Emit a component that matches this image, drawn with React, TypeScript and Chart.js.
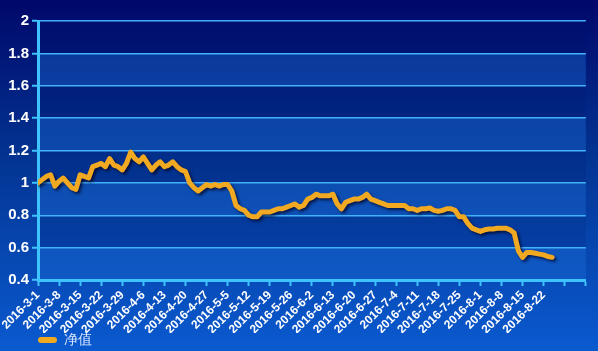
import React, { useEffect, useRef } from "react";
import { Chart, registerables } from "chart.js";

Chart.register(...registerables);

const seriesName = "净值";

const xTickLabels = [
  "2016-3-1", "2016-3-8", "2016-3-15", "2016-3-22", "2016-3-29", "2016-4-6",
  "2016-4-13", "2016-4-20", "2016-4-27", "2016-5-5", "2016-5-12", "2016-5-19",
  "2016-5-26", "2016-6-2", "2016-6-13", "2016-6-20", "2016-6-27", "2016-7-4",
  "2016-7-11", "2016-7-18", "2016-7-25", "2016-8-1", "2016-8-8", "2016-8-15",
  "2016-8-22",
];

const netValues = [
  1.0, 1.02, 1.04, 1.05, 0.98, 1.01, 1.03, 1.0, 0.97, 0.96,
  1.05, 1.04, 1.03, 1.1, 1.11, 1.12, 1.1, 1.15, 1.11, 1.1,
  1.08, 1.12, 1.19, 1.15, 1.13, 1.16, 1.12, 1.08, 1.11, 1.13,
  1.1, 1.11, 1.13, 1.1, 1.08, 1.07, 1.0, 0.97, 0.95, 0.97,
  0.99, 0.98, 0.99, 0.98, 0.99, 0.99, 0.95, 0.86, 0.84, 0.83,
  0.8, 0.79, 0.79, 0.82, 0.82, 0.82, 0.83, 0.84, 0.84, 0.85,
  0.86, 0.87, 0.85, 0.86, 0.9, 0.91, 0.93, 0.92, 0.92, 0.92,
  0.93, 0.87, 0.84, 0.88, 0.89, 0.9, 0.9, 0.91, 0.93, 0.9,
  0.89, 0.88, 0.87, 0.86, 0.86, 0.86, 0.86, 0.86, 0.84, 0.84,
  0.83, 0.84, 0.84, 0.845, 0.83, 0.825, 0.83, 0.84, 0.84, 0.83,
  0.79, 0.79, 0.75, 0.72, 0.71, 0.7, 0.71, 0.715, 0.715, 0.72,
  0.72, 0.72, 0.71, 0.69, 0.58, 0.54, 0.57, 0.57, 0.565, 0.56,
  0.555, 0.545, 0.54,
];

const yMin = 0.4;
const yMax = 2;
const yStep = 0.2;
const daysPerTick = 5;
const axisDays = 130;

const axisBlue = "#3ec3ff";
const gridBlue = "rgba(70,185,255,0.95)";
const lineGold = "#f2a922";

const bgPlugin = {
  id: "bgPlugin",
  beforeDraw(chart: any) {
    const { ctx, width, height, chartArea, scales } = chart;
    ctx.save();
    const g = ctx.createLinearGradient(0, 0, 0, height);
    g.addColorStop(0, "#00086a");
    g.addColorStop(0.45, "#033492");
    g.addColorStop(1, "#0a5ad0");
    ctx.fillStyle = g;
    ctx.fillRect(0, 0, width, height);
    const y = scales.y;
    let k = 0;
    for (let v = yMax; v > yMin + 1e-6; v -= yStep) {
      const top = y.getPixelForValue(v);
      const bot = y.getPixelForValue(v - yStep);
      ctx.fillStyle = k % 2 === 1 ? "rgba(30,110,215,0.38)" : "rgba(0,20,90,0.12)";
      ctx.fillRect(chartArea.left, top, chartArea.right - chartArea.left, bot - top);
      k++;
    }
    ctx.restore();
  },
  beforeDatasetsDraw(chart: any) {
    const ctx = chart.ctx;
    ctx.save();
    ctx.shadowColor = "rgba(0,0,30,0.7)";
    ctx.shadowOffsetX = 2;
    ctx.shadowOffsetY = 2;
    ctx.shadowBlur = 3;
  },
  afterDatasetsDraw(chart: any) {
    chart.ctx.restore();
  },
};

export default function App() {
  const ref = useRef<HTMLCanvasElement>(null);
  useEffect(() => {
    document.body.style.margin = "0";
    const chart = new Chart(ref.current as HTMLCanvasElement, {
      type: "line",
      data: {
        datasets: [
          {
            label: seriesName,
            data: netValues.map((v, i) => ({ x: i, y: v })),
            borderColor: lineGold,
            backgroundColor: lineGold,
            borderWidth: 5,
            pointRadius: 0,
            tension: 0,
            borderJoinStyle: "round",
            borderCapStyle: "round",
          },
        ],
      },
      options: {
        responsive: false,
        animation: false,
        layout: { padding: { top: 21, right: 7, left: 0, bottom: -6 } },
        plugins: {
          tooltip: { enabled: false },
          legend: {
            position: "bottom",
            align: "start",
            fullSize: false,
            labels: {
              boxWidth: 19,
              boxHeight: 6,
              padding: 0,
              useBorderRadius: true,
              borderRadius: 3,
              color: "#d6e4ff",
              font: { size: 14, family: "Arial" },
              generateLabels: () => [
                {
                  text: seriesName,
                  fillStyle: lineGold,
                  strokeStyle: lineGold,
                  lineWidth: 0,
                  borderRadius: 3,
                  datasetIndex: 0,
                  fontColor: "#d6e4ff",
                },
              ],
            },
          },
        },
        scales: {
          x: {
            type: "linear",
            min: 0,
            max: axisDays,
            afterFit: (s: any) => {
              s.height = 53;
            },
            grid: {
              drawOnChartArea: false,
              drawTicks: true,
              tickLength: 6,
              tickColor: axisBlue,
              tickWidth: 2,
            },
            border: { display: true, color: axisBlue, width: 3 },
            ticks: {
              stepSize: daysPerTick,
              autoSkip: false,
              minRotation: 45,
              maxRotation: 45,
              padding: 2,
              color: "#ffffff",
              font: { size: 12, weight: "bold", family: "Arial" },
              callback: (v: any) => {
                const idx = Math.round(Number(v) / daysPerTick);
                return xTickLabels[idx] ?? "";
              },
            },
          },
          y: {
            min: yMin,
            max: yMax,
            afterFit: (s: any) => {
              s.width = 38;
            },
            grid: {
              color: gridBlue,
              lineWidth: 1.5,
              drawTicks: true,
              tickLength: 6,
              tickColor: axisBlue,
              tickWidth: 2,
            },
            border: { display: true, color: axisBlue, width: 3 },
            ticks: {
              stepSize: yStep,
              padding: 3,
              color: "#ffffff",
              font: { size: 15, weight: "bold", family: "Arial" },
              callback: (v: any) => String(Number(Number(v).toFixed(1))),
            },
          },
        },
      },
      plugins: [bgPlugin],
    } as any);
    return () => chart.destroy();
  }, []);
  return (
    <div style={{ position: "absolute", left: 0, top: 0 }}>
      <canvas ref={ref} width={598} height={351} />
    </div>
  );
}
